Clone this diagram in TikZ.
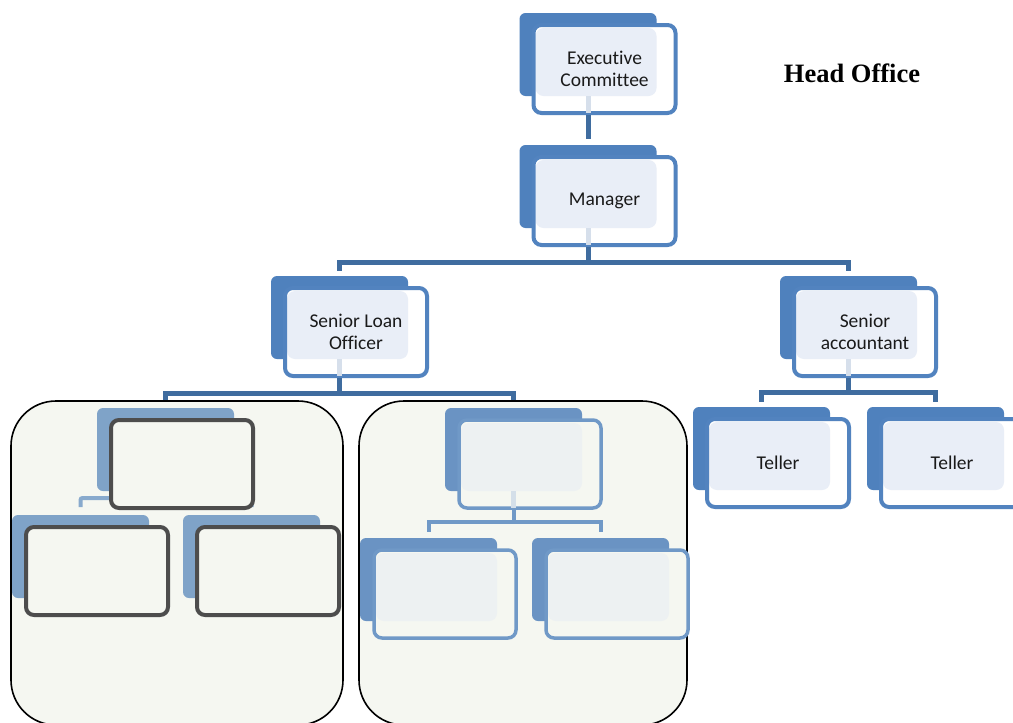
\documentclass[tikz,border=0pt]{standalone}
\usepackage{fontspec}
\setmainfont{Carlito}[Ligatures=NoCommon]
\newfontfamily\headfont{Liberation Serif}
\usetikzlibrary{calc}
\definecolor{cBack}{HTML}{4F81BD}
\definecolor{cLine}{HTML}{5283BF}
\definecolor{cInner}{HTML}{E9EEF7}
\definecolor{cConn}{HTML}{3F6C9F}
\definecolor{cStub}{HTML}{D6DFEB}
\definecolor{cText}{HTML}{1A1A1A}
\definecolor{cPanel}{HTML}{F5F7F1}
\definecolor{cLBack}{HTML}{7FA3C8}
\definecolor{cGray}{HTML}{4D4D4D}
\definecolor{cLConn}{HTML}{88AACD}
\definecolor{cRBack}{HTML}{6A93C3}
\definecolor{cRLine}{HTML}{7099C7}
\definecolor{cRInner}{HTML}{EDF1F2}
\tikzset{
  frontbase/.style={line width=4pt, rounded corners=8, minimum width=142pt,
    minimum height=88pt, inner sep=0pt, align=center,
    font=\fontsize{19.5}{22}\selectfont, text=cText},
  mfront/.style={frontbase, draw=cLine, fill=white,
    path picture={\fill[cInner] ($(path picture bounding box.center)+(-69,-41)$)
      rectangle ($(path picture bounding box.center)+(52,27)$);}},
  lfront/.style={frontbase, draw=cGray, fill=cPanel},
  rfront/.style={frontbase, draw=cRLine, line width=3.5pt, fill=cPanel,
    path picture={\fill[cRInner] ($(path picture bounding box.center)+(-69,-41)$)
      rectangle ($(path picture bounding box.center)+(52,27)$);}},
  mbackfill/.style={fill=cBack},
  lbackfill/.style={fill=cLBack},
  rbackfill/.style={fill=cRBack},
  conn/.style={draw=cConn, line width=5pt},
  lconn/.style={draw=cLConn, line width=4pt, rounded corners=2},
  rconn/.style={draw=cRLine, line width=4pt},
  panel/.style={draw=black, line width=1.6pt, fill=cPanel, rounded corners=45,
    minimum height=324pt, inner sep=0pt},
  headtext/.style={font=\headfont\bfseries\fontsize{26.5}{30}\selectfont, text=black}
}
% #1 name, #2 cx, #3 cy, #4 kind (m/l/r), #5 text
\newcommand\orgbox[5]{%
  \coordinate (#1-c) at (#2,#3);
  \coordinate (#1-top) at ($(#1-c)+(-16.5,-56)$);
  \coordinate (#1-bot) at ($(#1-c)+(-16.5,46)$);
  \path[#4backfill, rounded corners=6] ($(#1-c)+(-85,-56)$) rectangle ($(#1-c)+(52,27)$);
  \node[#4front] (#1) at (#1-c) {#5};
}
\newcommand\kidstub[2]{%
  \fill[#2] ($(#1-c)+(-19,27)$) rectangle ($(#1-c)+(-14,44)$);
}
\begin{document}
\begin{tikzpicture}[x=1pt, y=-1pt]
\useasboundingbox (0,0) rectangle (1013,723);
\clip (0,0) rectangle (1013,723);
\fill[white] (0,0) rectangle (1013,723);

% main chart
\orgbox{exec}{604.5}{69}{m}{Executive\\Committee}
\orgbox{man}{604.5}{201}{m}{Manager}
\orgbox{slo}{356}{332}{m}{Senior Loan\\Officer}
\orgbox{sa}{865}{332}{m}{Senior\\accountant}
\orgbox{tA}{778}{463}{m}{Teller}
\orgbox{tB}{952}{463}{m}{Teller}

% left panel
\node[panel, minimum width=332pt] (lpanel) at (177,563) {};
\orgbox{lbl}{97}{571}{l}{}
\orgbox{lbr}{268}{571}{l}{}
\draw[lconn] ($(lbl-top)+(0,-8)$) |- ($(lbr-top)+(0,-17)$) -- ($(lbr-top)+(0,-8)$);
\orgbox{lt}{182}{464}{l}{}

% right panel
\node[panel, minimum width=328pt] (rpanel) at (523,563) {};
\orgbox{rt}{530}{464}{r}{}
\orgbox{rbl}{445}{594}{r}{}
\orgbox{rbr}{617}{594}{r}{}
\draw[rconn] (rt-bot) -- ++(0,12) -| ($(rbl-top)+(0,-6)$);
\draw[rconn] (rt-bot) -- ++(0,12) -| ($(rbr-top)+(0,-6)$);

% main connectors
\draw[conn] (exec-bot) -- ($(man-top)+(0,-6)$);
\draw[conn] (man-bot) -- ++(0,15) -| ($(slo-top)+(0,-5)$);
\draw[conn] (man-bot) -- ++(0,15) -| ($(sa-top)+(0,-5)$);
\draw[conn] (sa-bot) -- ++(0,14) -| ($(tA-top)+(0,-5)$);
\draw[conn] (sa-bot) -- ++(0,14) -| ($(tB-top)+(0,-5)$);
\draw[conn] (slo-bot) -- ++(0,15) -| (lt-top |- lpanel.north);
\draw[conn] (slo-bot) -- ++(0,15) -| (rt-top |- rpanel.north);

% faint stubs inside parent boxes
\kidstub{exec}{cStub}
\kidstub{man}{cStub}
\kidstub{slo}{cStub}
\kidstub{sa}{cStub}
\kidstub{rt}{cRInner!80!cRLine}

\node[headtext] (head) at (852,73) {Head Office};
\end{tikzpicture}
\end{document}
